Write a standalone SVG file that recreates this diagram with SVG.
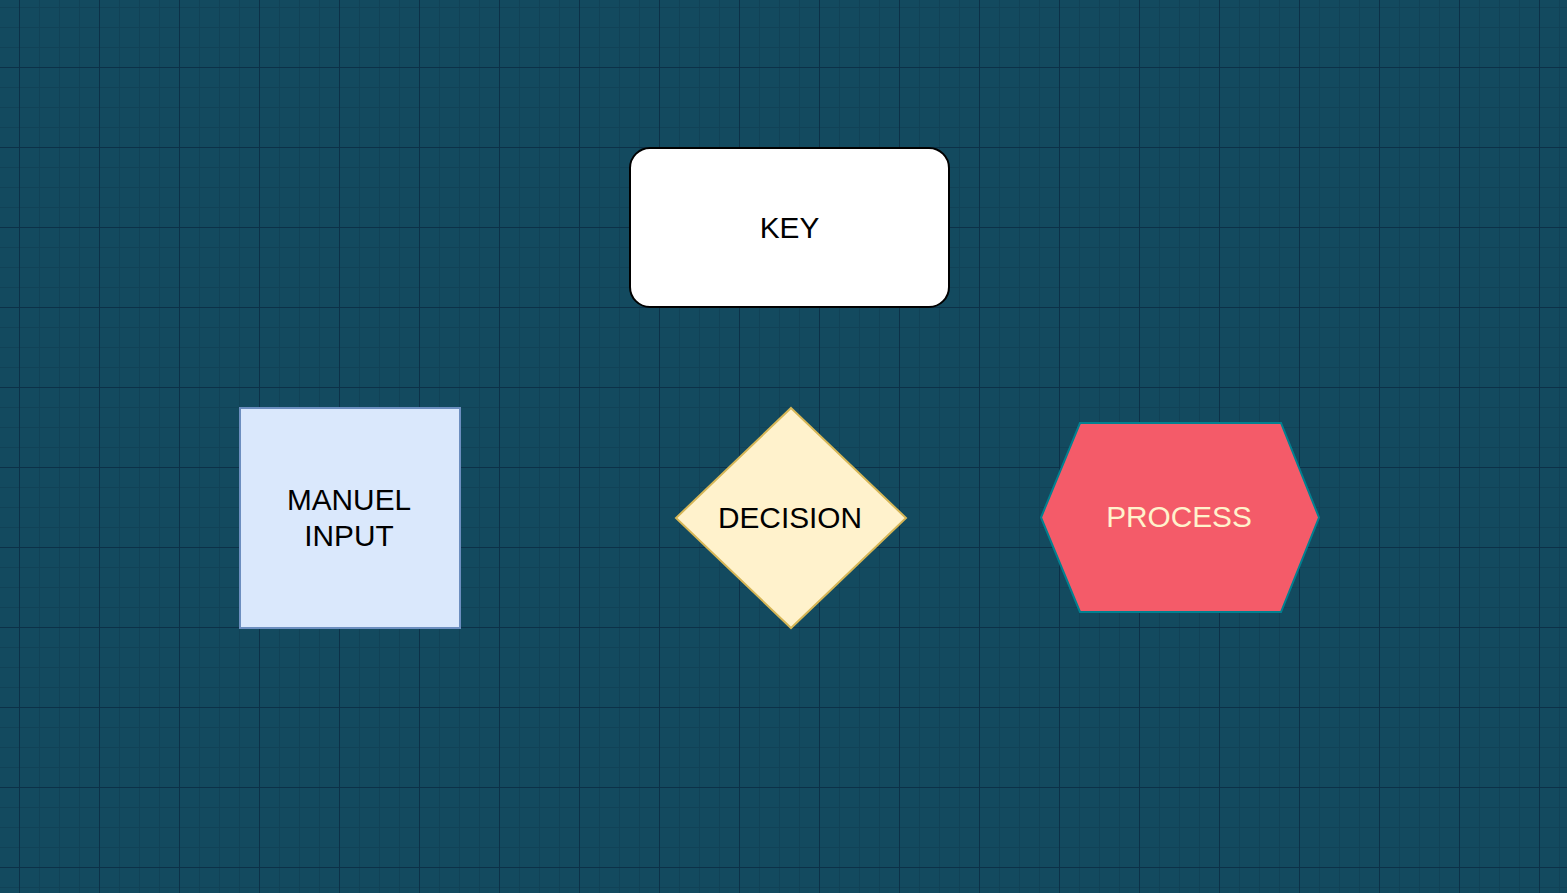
<svg xmlns="http://www.w3.org/2000/svg" width="1567" height="893" viewBox="0 0 1567 893">
  <defs>
    <pattern id="grid" patternUnits="userSpaceOnUse" x="19" y="67" width="80" height="80">
      <rect x="0" y="0" width="80" height="80" fill="#134a5f"/>
      <rect x="20" y="0" width="1" height="80" fill="#114257"/>
      <rect x="40" y="0" width="1" height="80" fill="#114257"/>
      <rect x="60" y="0" width="1" height="80" fill="#114257"/>
      <rect x="0" y="20" width="80" height="1" fill="#114257"/>
      <rect x="0" y="40" width="80" height="1" fill="#114257"/>
      <rect x="0" y="60" width="80" height="1" fill="#114257"/>
      <rect x="0" y="0" width="1" height="80" fill="#0c3148"/>
      <rect x="0" y="0" width="80" height="1" fill="#0c3148"/>
    </pattern>
    <style>
      .lbl { font-family: "Liberation Sans", Arial, sans-serif; font-size: 29.8px; text-anchor: middle; }
      .dark { fill: #000000; }
      .cream { fill: #fff2cc; }
    </style>
  </defs>
  <rect x="0" y="0" width="1567" height="893" fill="url(#grid)"/>

  <g id="connectors"></g>

  <g id="key">
    <rect x="630" y="148" width="319" height="159" rx="20" ry="20" fill="#ffffff" stroke="#000000" stroke-width="2"/>
    <text class="lbl dark" x="789.5" y="237.5">KEY</text>
  </g>

  <g id="manual-input">
    <rect x="240" y="408" width="220" height="220" fill="#dae8fc" stroke="#6c8ebf" stroke-width="2"/>
    <text class="lbl dark" x="349" y="509.5">MANUEL</text>
    <text class="lbl dark" x="349" y="545.5">INPUT</text>
  </g>

  <g id="decision">
    <polygon points="791,408 906,518 791,628 676,518" fill="#fff2cc" stroke="#d6b656" stroke-width="2"/>
    <text class="lbl dark" x="790" y="527.5">DECISION</text>
  </g>

  <g id="process">
    <polygon points="1080,423 1281,423 1319,517.5 1281,612 1080,612 1041,517.5" fill="#f45b69" stroke="#028090" stroke-width="2"/>
    <text class="lbl cream" x="1179" y="527">PROCESS</text>
  </g>
</svg>
